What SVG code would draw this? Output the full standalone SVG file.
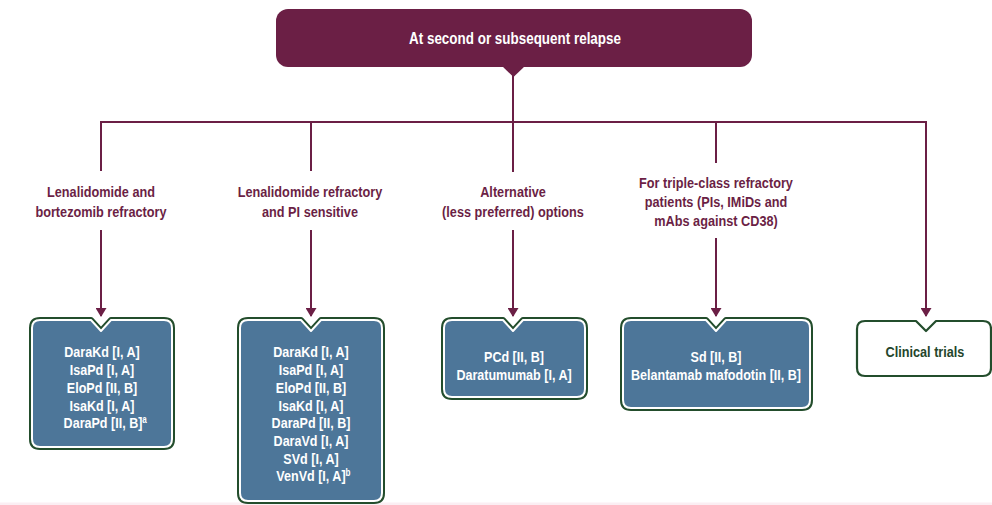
<svg xmlns="http://www.w3.org/2000/svg" width="992" height="505" viewBox="0 0 992 505">
<defs>
<style>
.ln{stroke:#6b1f45;stroke-width:2;fill:none}
.lbl{font-family:"Liberation Sans",Arial,sans-serif;font-weight:bold;font-size:15.5px;fill:#6b1f45;text-anchor:middle}
.bt{font-family:"Liberation Sans",Arial,sans-serif;font-weight:bold;font-size:15.5px;fill:#ffffff;text-anchor:middle}
.title{font-family:"Liberation Sans",Arial,sans-serif;font-weight:bold;font-size:16px;fill:#ffffff;text-anchor:middle}
.ct{font-family:"Liberation Sans",Arial,sans-serif;font-weight:bold;font-size:15px;fill:#24462c;text-anchor:middle}
.outer{fill:none;stroke:#234d2c;stroke-width:6;stroke-linejoin:round}
.inner{fill:#4d7699;stroke:#ffffff;stroke-width:2;stroke-linejoin:round}
.wbox{fill:#ffffff;stroke:#234d2c;stroke-width:2.2;stroke-linejoin:round}
.sup{font-size:10px}
</style>
<marker id="ah" viewBox="0 0 9 11" refX="8" refY="5.5" markerWidth="9" markerHeight="11" markerUnits="userSpaceOnUse" orient="auto">
<path d="M0,0 L9,5.5 L0,11 Z" fill="#6b1f45"/>
</marker>
</defs>
<rect x="0" y="0" width="992" height="505" fill="#ffffff"/>
<rect x="0" y="502.5" width="992" height="2.5" fill="#fbeef3"/>

<g id="connectors">
<line class="ln" x1="513" y1="70" x2="513" y2="172"/>
<polyline class="ln" points="101,171 101,122 926,122 926,316" marker-end="url(#ah)"/>
<line class="ln" x1="311" y1="122" x2="311" y2="171"/>
<line class="ln" x1="716" y1="122" x2="716" y2="163"/>
<line class="ln" x1="101" y1="230" x2="101" y2="316" marker-end="url(#ah)"/>
<line class="ln" x1="311" y1="230" x2="311" y2="316" marker-end="url(#ah)"/>
<line class="ln" x1="513" y1="230" x2="513" y2="316" marker-end="url(#ah)"/>
<line class="ln" x1="716" y1="238" x2="716" y2="316" marker-end="url(#ah)"/>
</g>

<g id="title">
<rect x="276" y="9" width="476" height="58" rx="12" fill="#6b1f45"/>
<path d="M502,66 L525,66 L513.5,77 Z" fill="#6b1f45"/>
<g transform="translate(515,0) scale(0.84,1)"><text class="title" x="0" y="44">At second or subsequent relapse</text></g>
</g>

<g id="label-1" transform="translate(101,0) scale(0.82,1)">
<text class="lbl" x="0" y="197.5">Lenalidomide and</text>
<text class="lbl" x="0" y="217.5">bortezomib refractory</text>
</g>
<g id="label-2" transform="translate(310,0) scale(0.82,1)">
<text class="lbl" x="0" y="197.5">Lenalidomide refractory</text>
<text class="lbl" x="0" y="217.5">and PI sensitive</text>
</g>
<g id="label-3" transform="translate(513,0) scale(0.82,1)">
<text class="lbl" x="0" y="197.5">Alternative</text>
<text class="lbl" x="0" y="217.5">(less preferred) options</text>
</g>
<g id="label-4" transform="translate(716,0) scale(0.82,1)">
<text class="lbl" x="0" y="188.5">For triple-class refractory</text>
<text class="lbl" x="0" y="207.5">patients (PIs, IMiDs and</text>
<text class="lbl" x="0" y="226.5">mAbs against CD38)</text>
</g>

<g id="box-1">
<path class="outer" d="M40,320 H91 L101,331 L111,320 H164 Q172,320 172,328 V439 Q172,447 164,447 H40 Q32,447 32,439 V328 Q32,320 40,320 Z"/>
<path class="inner" d="M40,320 H91 L101,331 L111,320 H164 Q172,320 172,328 V439 Q172,447 164,447 H40 Q32,447 32,439 V328 Q32,320 40,320 Z"/>
<g transform="translate(102,0) scale(0.81,1)">
<text class="bt" x="0" y="357.5">DaraKd [I, A]</text>
<text class="bt" x="0" y="375.2">IsaPd [I, A]</text>
<text class="bt" x="0" y="392.9">EloPd [II, B]</text>
<text class="bt" x="0" y="410.6">IsaKd [I, A]</text>
<text class="bt" x="4" y="428.3">DaraPd [II, B]<tspan class="sup" dy="-5">a</tspan></text>
</g>
</g>

<g id="box-2">
<path class="outer" d="M248,320 H301 L311,331 L321,320 H374 Q382,320 382,328 V493 Q382,501 374,501 H248 Q240,501 240,493 V328 Q240,320 248,320 Z"/>
<path class="inner" d="M248,320 H301 L311,331 L321,320 H374 Q382,320 382,328 V493 Q382,501 374,501 H248 Q240,501 240,493 V328 Q240,320 248,320 Z"/>
<g transform="translate(311,0) scale(0.81,1)">
<text class="bt" x="0" y="357.5">DaraKd [I, A]</text>
<text class="bt" x="0" y="375.2">IsaPd [I, A]</text>
<text class="bt" x="0" y="392.9">EloPd [II, B]</text>
<text class="bt" x="0" y="410.6">IsaKd [I, A]</text>
<text class="bt" x="0" y="428.3">DaraPd [II, B]</text>
<text class="bt" x="0" y="446">DaraVd [I, A]</text>
<text class="bt" x="0" y="463.7">SVd [I, A]</text>
<text class="bt" x="3" y="481.4">VenVd [I, A]<tspan class="sup" dy="-5">b</tspan></text>
</g>
</g>

<g id="box-3">
<path class="outer" d="M452,320 H503 L513,331 L523,320 H577 Q585,320 585,328 V389 Q585,397 577,397 H452 Q444,397 444,389 V328 Q444,320 452,320 Z"/>
<path class="inner" d="M452,320 H503 L513,331 L523,320 H577 Q585,320 585,328 V389 Q585,397 577,397 H452 Q444,397 444,389 V328 Q444,320 452,320 Z"/>
<g transform="translate(514,0) scale(0.81,1)">
<text class="bt" x="0" y="362">PCd [II, B]</text>
<text class="bt" x="0" y="380">Daratumumab [I, A]</text>
</g>
</g>

<g id="box-4">
<path class="outer" d="M631,320 H706 L716,331 L726,320 H802 Q810,320 810,328 V400 Q810,408 802,408 H631 Q623,408 623,400 V328 Q623,320 631,320 Z"/>
<path class="inner" d="M631,320 H706 L716,331 L726,320 H802 Q810,320 810,328 V400 Q810,408 802,408 H631 Q623,408 623,400 V328 Q623,320 631,320 Z"/>
<g transform="translate(716,0) scale(0.81,1)">
<text class="bt" x="0" y="362">Sd [II, B]</text>
<text class="bt" x="0" y="380">Belantamab mafodotin [II, B]</text>
</g>
</g>

<g id="box-5">
<path class="wbox" d="M865,321 H916 L926,331 L936,321 H983 Q991,321 991,329 V368 Q991,376 983,376 H865 Q857,376 857,368 V329 Q857,321 865,321 Z"/>
<g transform="translate(925,0) scale(0.845,1)">
<text class="ct" x="0" y="357.5">Clinical trials</text>
</g>
</g>
</svg>
